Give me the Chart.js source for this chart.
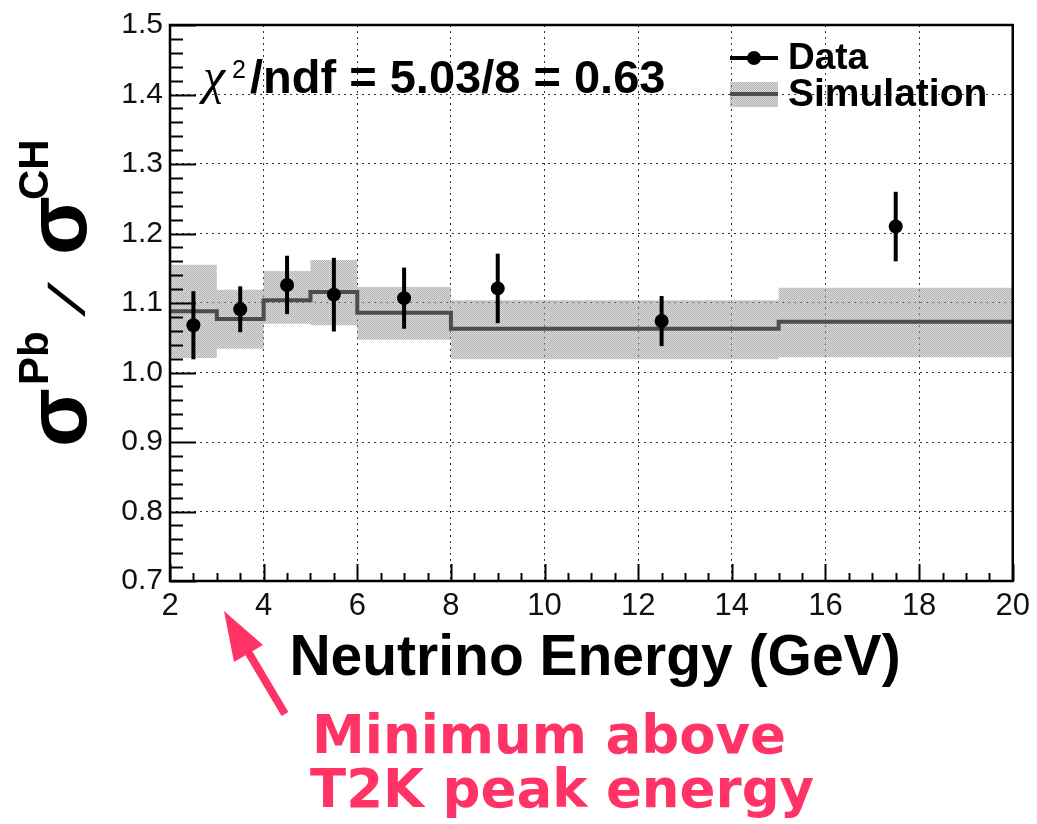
<!DOCTYPE html>
<html>
<head>
<meta charset="utf-8">
<script src="https://cdn.jsdelivr.net/npm/chart.js@4.4.1/dist/chart.umd.min.js"></script>
<style>
    html, body { margin: 0; padding: 0; background: #fff; }
</style>
</head>
<body>
<canvas id="myChart" width="1037" height="824"></canvas>
<script>
// valores
var energia = [2.5, 3.5, 4.5, 5.5, 7, 9, 12.5, 17.5];
var ratioData = [1.068, 1.091, 1.126, 1.112, 1.107, 1.121, 1.074, 1.210];
var errorData = [0.049, 0.033, 0.042, 0.053, 0.044, 0.050, 0.036, 0.050];

var binEdges = [2, 3, 4, 5, 6, 8, 15, 20];
var simValor = [1.088, 1.077, 1.104, 1.116, 1.086, 1.063, 1.073];
var simAlto = [1.155, 1.119, 1.146, 1.162, 1.123, 1.104, 1.122];
var simBajo = [1.021, 1.034, 1.070, 1.068, 1.047, 1.019, 1.022];

var xTicks = [2, 4, 6, 8, 10, 12, 14, 16, 18, 20];
var yTicks = [0.7, 0.8, 0.9, 1.0, 1.1, 1.2, 1.3, 1.4, 1.5];

var rosa = 'rgb(255, 51, 102)';
var fuente = '"Liberation Sans", Arial, Helvetica, sans-serif';

function escalones(valores) {
    var pts = [];
    for (var i = 0; i < valores.length; i++) {
        pts.push({ x: binEdges[i], y: valores[i] });
    }
    pts.push({ x: binEdges[binEdges.length - 1], y: valores[valores.length - 1] });
    return pts;
}

function patronGris() {
    var c = document.createElement('canvas');
    c.width = 2; c.height = 2;
    var g = c.getContext('2d');
    g.fillStyle = 'rgba(175,175,175,0.45)';
    g.fillRect(0, 0, 2, 2);
    g.fillStyle = 'rgba(140,140,140,0.5)';
    g.fillRect(0, 0, 1, 1);
    g.fillRect(1, 1, 1, 1);
    return document.getElementById('myChart').getContext('2d').createPattern(c, 'repeat');
}

var banda = patronGris();

// barras de error, marco, ticks internos y textos
var errorBars = {
    id: 'errorBars',
    afterDatasetsDraw: function (chart) {
        var ctx = chart.ctx;
        var xs = chart.scales.x, ys = chart.scales.y;
        ctx.save();
        ctx.strokeStyle = '#000';
        ctx.lineWidth = 4;
        for (var i = 0; i < energia.length; i++) {
            var px = xs.getPixelForValue(energia[i]);
            ctx.beginPath();
            ctx.moveTo(px, ys.getPixelForValue(ratioData[i] + errorData[i]));
            ctx.lineTo(px, ys.getPixelForValue(ratioData[i] - errorData[i]));
            ctx.stroke();
        }
        ctx.restore();
    }
};

var marco = {
    id: 'marco',
    afterDraw: function (chart) {
        var ctx = chart.ctx;
        var a = chart.chartArea;
        var xs = chart.scales.x, ys = chart.scales.y;
        ctx.save();
        ctx.strokeStyle = '#000';
        ctx.lineWidth = 2;
        // ticks en y
        for (var k = 0; k <= 40; k++) {
            var py = Math.round(ys.getPixelForValue(0.7 + k * 0.02)) + 0.5;
            var len = (k % 5 == 0) ? 26 : 13;
            ctx.beginPath();
            ctx.moveTo(a.left, py);
            ctx.lineTo(a.left + len, py);
            ctx.stroke();
        }
        // ticks en x
        for (var j = 0; j <= 36; j++) {
            var px = Math.round(xs.getPixelForValue(2 + j * 0.5)) + 0.5;
            var l = (j % 4 == 0) ? 17 : 8;
            ctx.beginPath();
            ctx.moveTo(px, a.bottom);
            ctx.lineTo(px, a.bottom - l);
            ctx.stroke();
        }
        ctx.lineWidth = 2.5;
        ctx.strokeRect(a.left, a.top, a.right - a.left, a.bottom - a.top);
        ctx.restore();
    }
};

var textos = {
    id: 'textos',
    afterDraw: function (chart) {
        var ctx = chart.ctx;
        ctx.save();
        ctx.fillStyle = '#000';
        ctx.textBaseline = 'alphabetic';
        ctx.textAlign = 'left';

        // chi2
        ctx.font = 'italic 50px "Liberation Serif", serif';
        ctx.fillText('χ', 203, 93);
        ctx.font = '25px ' + fuente;
        ctx.fillText('2', 232, 78);
        ctx.font = 'bold 47px ' + fuente;
        ctx.fillText('/ndf = 5.03/8 = 0.63', 250, 93);

        // leyenda
        ctx.fillStyle = banda;
        ctx.fillRect(730, 82, 48, 25);
        ctx.strokeStyle = '#4d4d4d';
        ctx.lineWidth = 4;
        ctx.beginPath(); ctx.moveTo(730, 94); ctx.lineTo(778, 94); ctx.stroke();
        ctx.strokeStyle = '#000';
        ctx.beginPath(); ctx.moveTo(730, 58); ctx.lineTo(778, 58); ctx.stroke();
        ctx.fillStyle = '#000';
        ctx.beginPath(); ctx.arc(754, 58, 7, 0, Math.PI * 2); ctx.fill();
        ctx.font = 'bold 37px ' + fuente;
        ctx.fillText('Data', 788, 69);
        ctx.font = 'bold 39px ' + fuente;
        ctx.fillText('Simulation', 788, 106);

        // titulo x
        ctx.textAlign = 'center';
        ctx.font = 'bold 57px ' + fuente;
        ctx.fillText('Neutrino Energy (GeV)', 595, 675);

        // titulo y
        ctx.save();
        ctx.translate(86, 447);
        ctx.rotate(-Math.PI / 2);
        ctx.textAlign = 'left';
        ctx.font = 'bold 86px ' + fuente;
        ctx.fillText('σ', 0, 0);
        ctx.fillText('σ', 192, 0);
        ctx.font = 'bold 42px ' + fuente;
        ctx.fillText('Pb', 62, -38);
        ctx.fillText('CH', 247, -38);
        ctx.save();
        ctx.translate(130, -2);
        ctx.transform(1, 0, -0.6, 1, 0, 0);
        ctx.font = 'bold 50px ' + fuente;
        ctx.fillText('/', 0, 0);
        ctx.restore();
        ctx.restore();

        // anotacion
        ctx.textAlign = 'left';
        ctx.fillStyle = rosa;
        ctx.font = 'bold 53px "DejaVu Sans", sans-serif';
        ctx.fillText('Minimum above', 312, 753);
        ctx.fillText('T2K peak energy', 310, 807);

        ctx.strokeStyle = rosa;
        ctx.lineWidth = 8;
        ctx.beginPath(); ctx.moveTo(285, 714); ctx.lineTo(244, 645); ctx.stroke();
        ctx.beginPath();
        ctx.moveTo(224, 611);
        ctx.lineTo(234, 662);
        ctx.lineTo(263, 645);
        ctx.closePath();
        ctx.fill();
        ctx.restore();
    }
};

const data = {
    datasets: [
        {
            label: 'bajo',
            data: escalones(simBajo),
            stepped: true,
            borderWidth: 0,
            pointRadius: 0,
            fill: false,
            order: 3
        },
        {
            label: 'alto',
            data: escalones(simAlto),
            stepped: true,
            borderWidth: 0,
            pointRadius: 0,
            backgroundColor: banda,
            fill: '-1',
            order: 2
        },
        {
            label: 'Simulation',
            data: escalones(simValor),
            stepped: true,
            borderColor: '#4d4d4d',
            borderWidth: 4,
            pointRadius: 0,
            fill: false,
            order: 1
        },
        {
            label: 'Data',
            type: 'scatter',
            data: energia.map(function (e, i) { return { x: e, y: ratioData[i] }; }),
            pointRadius: 7,
            backgroundColor: '#000',
            borderColor: '#000',
            borderWidth: 0,
            order: 0
        }
    ]
};

const config = {
    type: 'line',
    data: data,
    options: {
        responsive: false,
        animation: false,
        layout: { padding: { top: 25, right: 22, left: 0, bottom: 0 } },
        plugins: { legend: { display: false }, tooltip: { enabled: false } },
        scales: {
            x: {
                type: 'linear',
                min: 2,
                max: 20,
                afterBuildTicks: function (axis) { axis.ticks = xTicks.map(function (v) { return { value: v }; }); },
                afterFit: function (s) { s.height = 243; },
                grid: { color: '#333', lineWidth: 1, drawTicks: false },
                border: { display: false, dash: [2, 4] },
                ticks: {
                    padding: 7,
                    color: '#111',
                    maxRotation: 0,
                    font: { family: fuente, size: 31 },
                    callback: function (v) { return v; }
                }
            },
            y: {
                min: 0.7,
                max: 1.5,
                afterBuildTicks: function (axis) { axis.ticks = yTicks.map(function (v) { return { value: v }; }); },
                afterFit: function (s) { s.width = 170; },
                grid: { color: '#333', lineWidth: 1, drawTicks: false },
                border: { display: false, dash: [2, 4] },
                ticks: {
                    padding: 7,
                    color: '#111',
                    font: { family: fuente, size: 30 },
                    callback: function (v) { return v.toFixed(1); }
                }
            }
        }
    },
    plugins: [errorBars, marco, textos]
};

var myChart = new Chart(document.getElementById('myChart'), config);
</script>
</body>
</html>
